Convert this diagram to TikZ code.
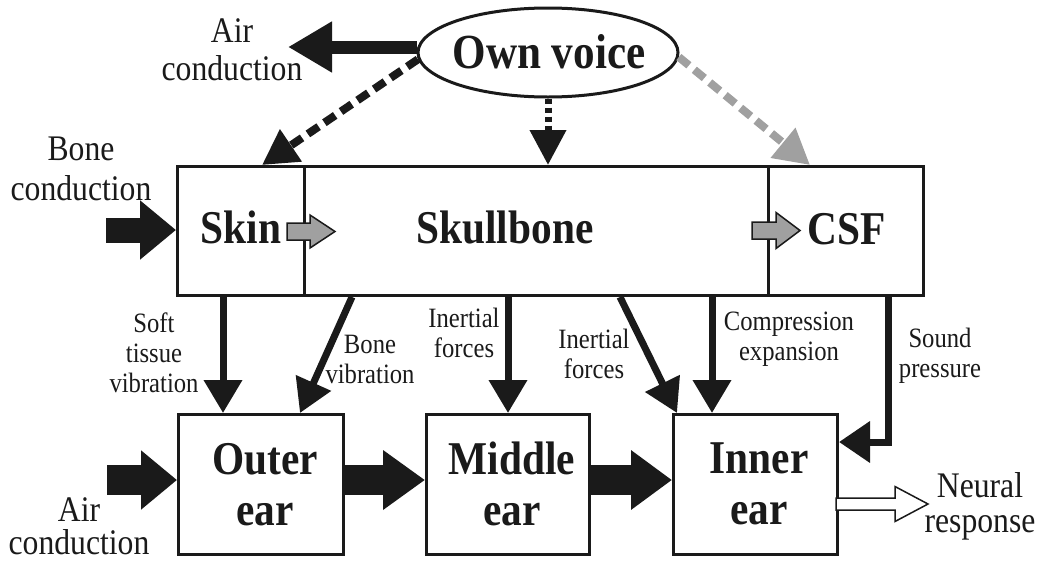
\documentclass[tikz,border=0pt]{standalone}
\usepackage{fontspec}
\setmainfont{Liberation Serif}[FakeStretch=0.88]
\usetikzlibrary{arrows.meta,shapes.geometric}
\definecolor{ink}{HTML}{1A1A1A}
\definecolor{lgray}{HTML}{A0A0A0}
% outlined block arrow: tail point, shaft length, total length, shaft half-width, head half-width, fill
\newcommand\outlinedarrow[6]{%
  \filldraw[fill=#6, draw=ink, line width=1.5pt, line join=miter]
    (#1) ++(0,-#4) -- ++(#2,0) -- ++(0,{#4-#5}) -- ++({#3-#2},#5)
    -- ++({#2-#3},#5) -- ++(0,{#4-#5}) -- ++(-#2,0) -- cycle;}
\begin{document}
\begin{tikzpicture}[x=1pt,y=-1pt,
  box/.style={draw=ink, line width=3pt, inner sep=0pt, anchor=north west},
  big/.style={font=\fontsize{47}{51}\selectfont\bfseries, align=center, inner sep=0pt, text=ink},
  mid/.style={font=\fontsize{36}{38}\selectfont, align=center, inner sep=0pt, text=ink},
  small/.style={font=\fontsize{28}{30}\selectfont, align=center, inner sep=0pt, text=ink},
  thin arrow/.style={draw=ink, line width=7pt, -{Triangle[width=37pt,length=33pt]}},
  fat arrow/.style={draw=ink, line width=30pt, -{Triangle[width=57pt,length=#1]}},
]
\useasboundingbox (0,0) rectangle (1041,565);

% boxes
\node[box, minimum width=127pt, minimum height=129pt] (skin) at (176,165) {};
\node[box, minimum width=464pt, minimum height=129pt] (skull) at (303,165) {};
\node[box, minimum width=155pt, minimum height=129pt] (csf) at (767,165) {};
\node[box, minimum width=165pt, minimum height=140pt] (outer) at (177,413) {};
\node[box, minimum width=163pt, minimum height=140pt] (middle) at (425,413) {};
\node[box, minimum width=164pt, minimum height=140pt] (inner) at (672,413) {};
\node[draw=ink, line width=3pt, ellipse, inner sep=0pt, minimum width=260pt, minimum height=89pt] (voice) at (548,52.5) {};

% box texts (anchor=base is the baseline of the last line)
\node[big, anchor=base, font=\fontsize{49}{51}\selectfont\bfseries] (voiceT) at (549,68) {Own voice};
\node[big, anchor=base] (skinT) at (241,243) {Skin};
\node[big, anchor=base] (skullT) at (505,243) {Skullbone};
\node[big, anchor=base] (csfT) at (847,244) {CSF};
\node[big, anchor=base] (outerT) at (265,525) {Outer\\ear};
\node[big, anchor=base] (middleT) at (512,525) {Middle\\ear};
\node[big, anchor=base] (innerT) at (759,524) {Inner\\ear};

% outer labels
\node[mid, anchor=base] (airTopT) at (232,80) {Air\\conduction};
\node[mid, anchor=base, font=\fontsize{36}{40}\selectfont] (boneT) at (81,200) {Bone\\conduction};
\node[mid, anchor=base, font=\fontsize{36}{33}\selectfont] (airBotT) at (79,554) {Air\\conduction};
\node[mid, anchor=base, font=\fontsize{36}{35}\selectfont] (neuralT) at (980,532) {Neural\\response};

% path labels
\node[small, anchor=base] (softT) at (154,392) {Soft\\tissue\\vibration};
\node[small, anchor=base] (bonevT) at (370,383) {Bone\\vibration};
\node[small, anchor=base] (inert1T) at (464,357) {Inertial\\forces};
\node[small, anchor=base] (inert2T) at (594,378) {Inertial\\forces};
\node[small, anchor=base] (compT) at (789,360) {Compression\\expansion};
\node[small, anchor=base] (soundT) at (940,377) {Sound\\pressure};

% free ends
\coordinate (airOut) at (288,47);
\coordinate (boneIn) at (106,230);
\coordinate (airIn) at (107,480);

% own voice arrows
\draw[draw=ink, line width=13pt, -{Triangle[width=48pt,length=44pt]}] (voice.west |- 0,47) -- (airOut);
\draw[draw=ink, line width=8pt, dash pattern=on 13pt off 7pt, -{Triangle[width=37pt,length=35pt]}] (voice.183) -- (262,0 |- skin.north);
\draw[draw=ink, line width=7pt, dash pattern=on 5pt off 4pt, -{Triangle[width=35pt,length=35pt]}] (voice.south) -- (voice.south |- skull.north);
\draw[draw=lgray, line width=8pt, dash pattern=on 13pt off 7pt, -{Triangle[width=37pt,length=35pt]}] (voice.-2) -- (810,0 |- csf.north);

% input / chain arrows
\draw[draw=ink, line width=25pt, -{Triangle[width=57pt,length=36pt]}] (boneIn) -- (skin.west |- boneIn);
\draw[fat arrow=36pt] (airIn) -- (outer.west |- airIn);
\draw[fat arrow=42pt] (outer.east |- airIn) -- (middle.west |- airIn);
\draw[fat arrow=41pt] (middle.east |- airIn) -- (inner.west |- airIn);

% gray transfer arrows and neural output
\outlinedarrow{287,231.5}{23}{48}{8.5}{16.5}{lgray}
\outlinedarrow{752,230.5}{24}{48}{8.5}{18}{lgray}
\outlinedarrow{836,504}{59}{92}{6}{17.5}{white}

% vertical paths
\draw[thin arrow] (223,0 |- skin.south) -- (223,0 |- outer.north);
\draw[thin arrow] (352,0 |- skull.south) -- (300,0 |- outer.north);
\draw[thin arrow] (508,0 |- skull.south) -- (508,0 |- middle.north);
\draw[thin arrow] (620,0 |- skull.south) -- (677,0 |- inner.north);
\draw[thin arrow] (712,0 |- skull.south) -- (712,0 |- inner.north);
\draw[draw=ink, line width=7pt, -{Triangle[width=40pt,length=31pt]}] (888,0 |- csf.south) |- (inner.east |- 0,442);
\end{tikzpicture}
\end{document}
